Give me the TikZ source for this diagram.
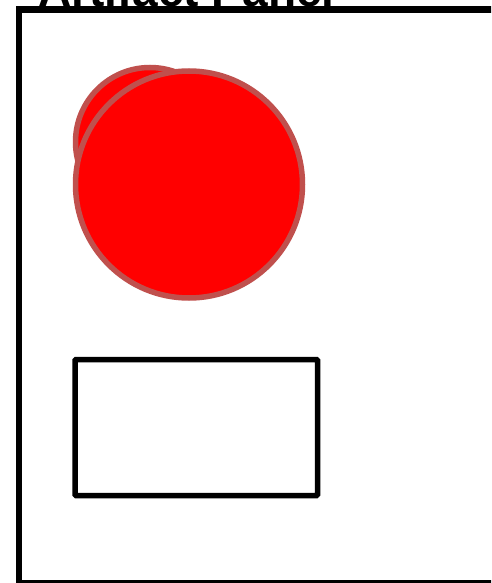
\documentclass[tikz,border=0pt]{standalone}
\usepackage{fontspec}
\setmainfont{Liberation Sans}
\usepackage{tikz}

\definecolor{blobedge}{HTML}{C0504D}

\begin{document}
\begin{tikzpicture}[x=1pt,y=-1pt]
        \useasboundingbox (0,0) rectangle (491,583);
        \clip (0,0) rectangle (491,583);

        % Panel frame and title
        \draw[line width=6.5pt] (19,583) -- (19,9.5) -- (530,9.5) -- (530,583) -- cycle;
        \node[anchor=base west, inner sep=0, font=\bfseries\fontsize{46}{55}\selectfont] (title) at (38,7) {Artifact Panel};

        % Red blobs
        \tikzset{blob/.style={circle, draw=blobedge, line width=5.5pt, fill=red, inner sep=0}}
        \node[blob, minimum size=149pt] (blobback) at (150,142) {};
        \node[blob, minimum size=227pt] (blobfront) at (189,184.5) {};

        % Empty box
        \node[draw, line width=5.5pt, rounded corners=1pt, inner sep=0,
              minimum width=242.5pt, minimum height=136pt] (box) at (196.25,427.5) {};
    \end{tikzpicture}
\end{document}
